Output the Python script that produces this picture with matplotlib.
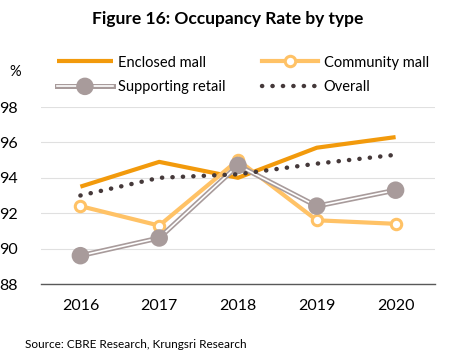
import matplotlib
matplotlib.use("Agg")
import matplotlib.pyplot as plt
import matplotlib.patheffects as pe

years = ["2016", "2017", "2018", "2019", "2020"]
enclosed = [93.5, 94.9, 94.0, 95.7, 96.3]
community = [92.4, 91.3, 95.0, 91.6, 91.4]
supporting = [89.6, 90.6, 94.7, 92.4, 93.3]
overall = [93.0, 94.0, 94.2, 94.8, 95.3]

plt.rcParams["font.family"] = ["Lato", "DejaVu Sans"]

fig = plt.figure(figsize=(4.56, 3.63), dpi=100)
ax = fig.add_axes([41 / 456, 1 - 284 / 363, 394 / 456, 177 / 363])

x = list(range(len(years)))
h1, = ax.plot(x, enclosed, color="#F29A0C", lw=3, solid_capstyle="butt",
              label="Enclosed mall", zorder=3)
h2, = ax.plot(x, community, color="#FFC266", lw=3, marker="o", ms=7.5,
              mfc="white", mec="#FFC266", mew=2.2, label="Community mall", zorder=4)
h3, = ax.plot(x, supporting, color="white", lw=1.2, marker="o", ms=9,
              mfc="#A89B9B", mec="#A89B9B",
              path_effects=[pe.Stroke(linewidth=3.6, foreground="#A89B9B"), pe.Normal()],
              label="Supporting retail", zorder=5)
h4, = ax.plot(x, overall, color="#45393A", lw=3.2, linestyle=(0, (0.05, 2.3)),
              dash_capstyle="round", label="Overall", zorder=6)

ax.set_xlim(-0.5, 4.5)
ax.set_ylim(88, 98)
ax.set_yticks([88, 90, 92, 94, 96, 98])
ax.set_xticks(x)
ax.set_xticklabels(years, fontsize=11.5)
ax.tick_params(axis="y", labelsize=11.5, length=0, pad=17)
ax.tick_params(axis="x", length=0, pad=11)
ax.grid(axis="y", color="#E0E0E0", lw=0.8)
ax.set_axisbelow(True)
for s in ["top", "right", "left"]:
    ax.spines[s].set_visible(False)
ax.spines["bottom"].set_color("#595959")
ax.spines["bottom"].set_linewidth(1.0)

fig.text(0.5, 1 - 19 / 363, "Figure 16: Occupancy Rate by type", ha="center",
         va="center", fontsize=12.5, fontweight="bold")
fig.text(15 / 456, 1 - 72 / 363, "%", ha="center", va="center", fontsize=10.5)
fig.text(25 / 456, 1 - 345 / 363, "Source: CBRE Research, Krungsri Research",
         ha="left", va="center", fontsize=8.5)

# matplotlib fills legend columns first, so order handles for row-wise reading
leg = fig.legend([h1, h3, h2, h4],
                 ["Enclosed mall", "Supporting retail", "Community mall", "Overall"],
                 loc="center", bbox_to_anchor=(243 / 456, 1 - 75 / 363), ncol=2,
                 frameon=False, fontsize=10.5, handlelength=3.8, columnspacing=2.5,
                 handletextpad=0.4, labelspacing=0.75)

fig.savefig("out.png", dpi=100)
plt.close(fig)
